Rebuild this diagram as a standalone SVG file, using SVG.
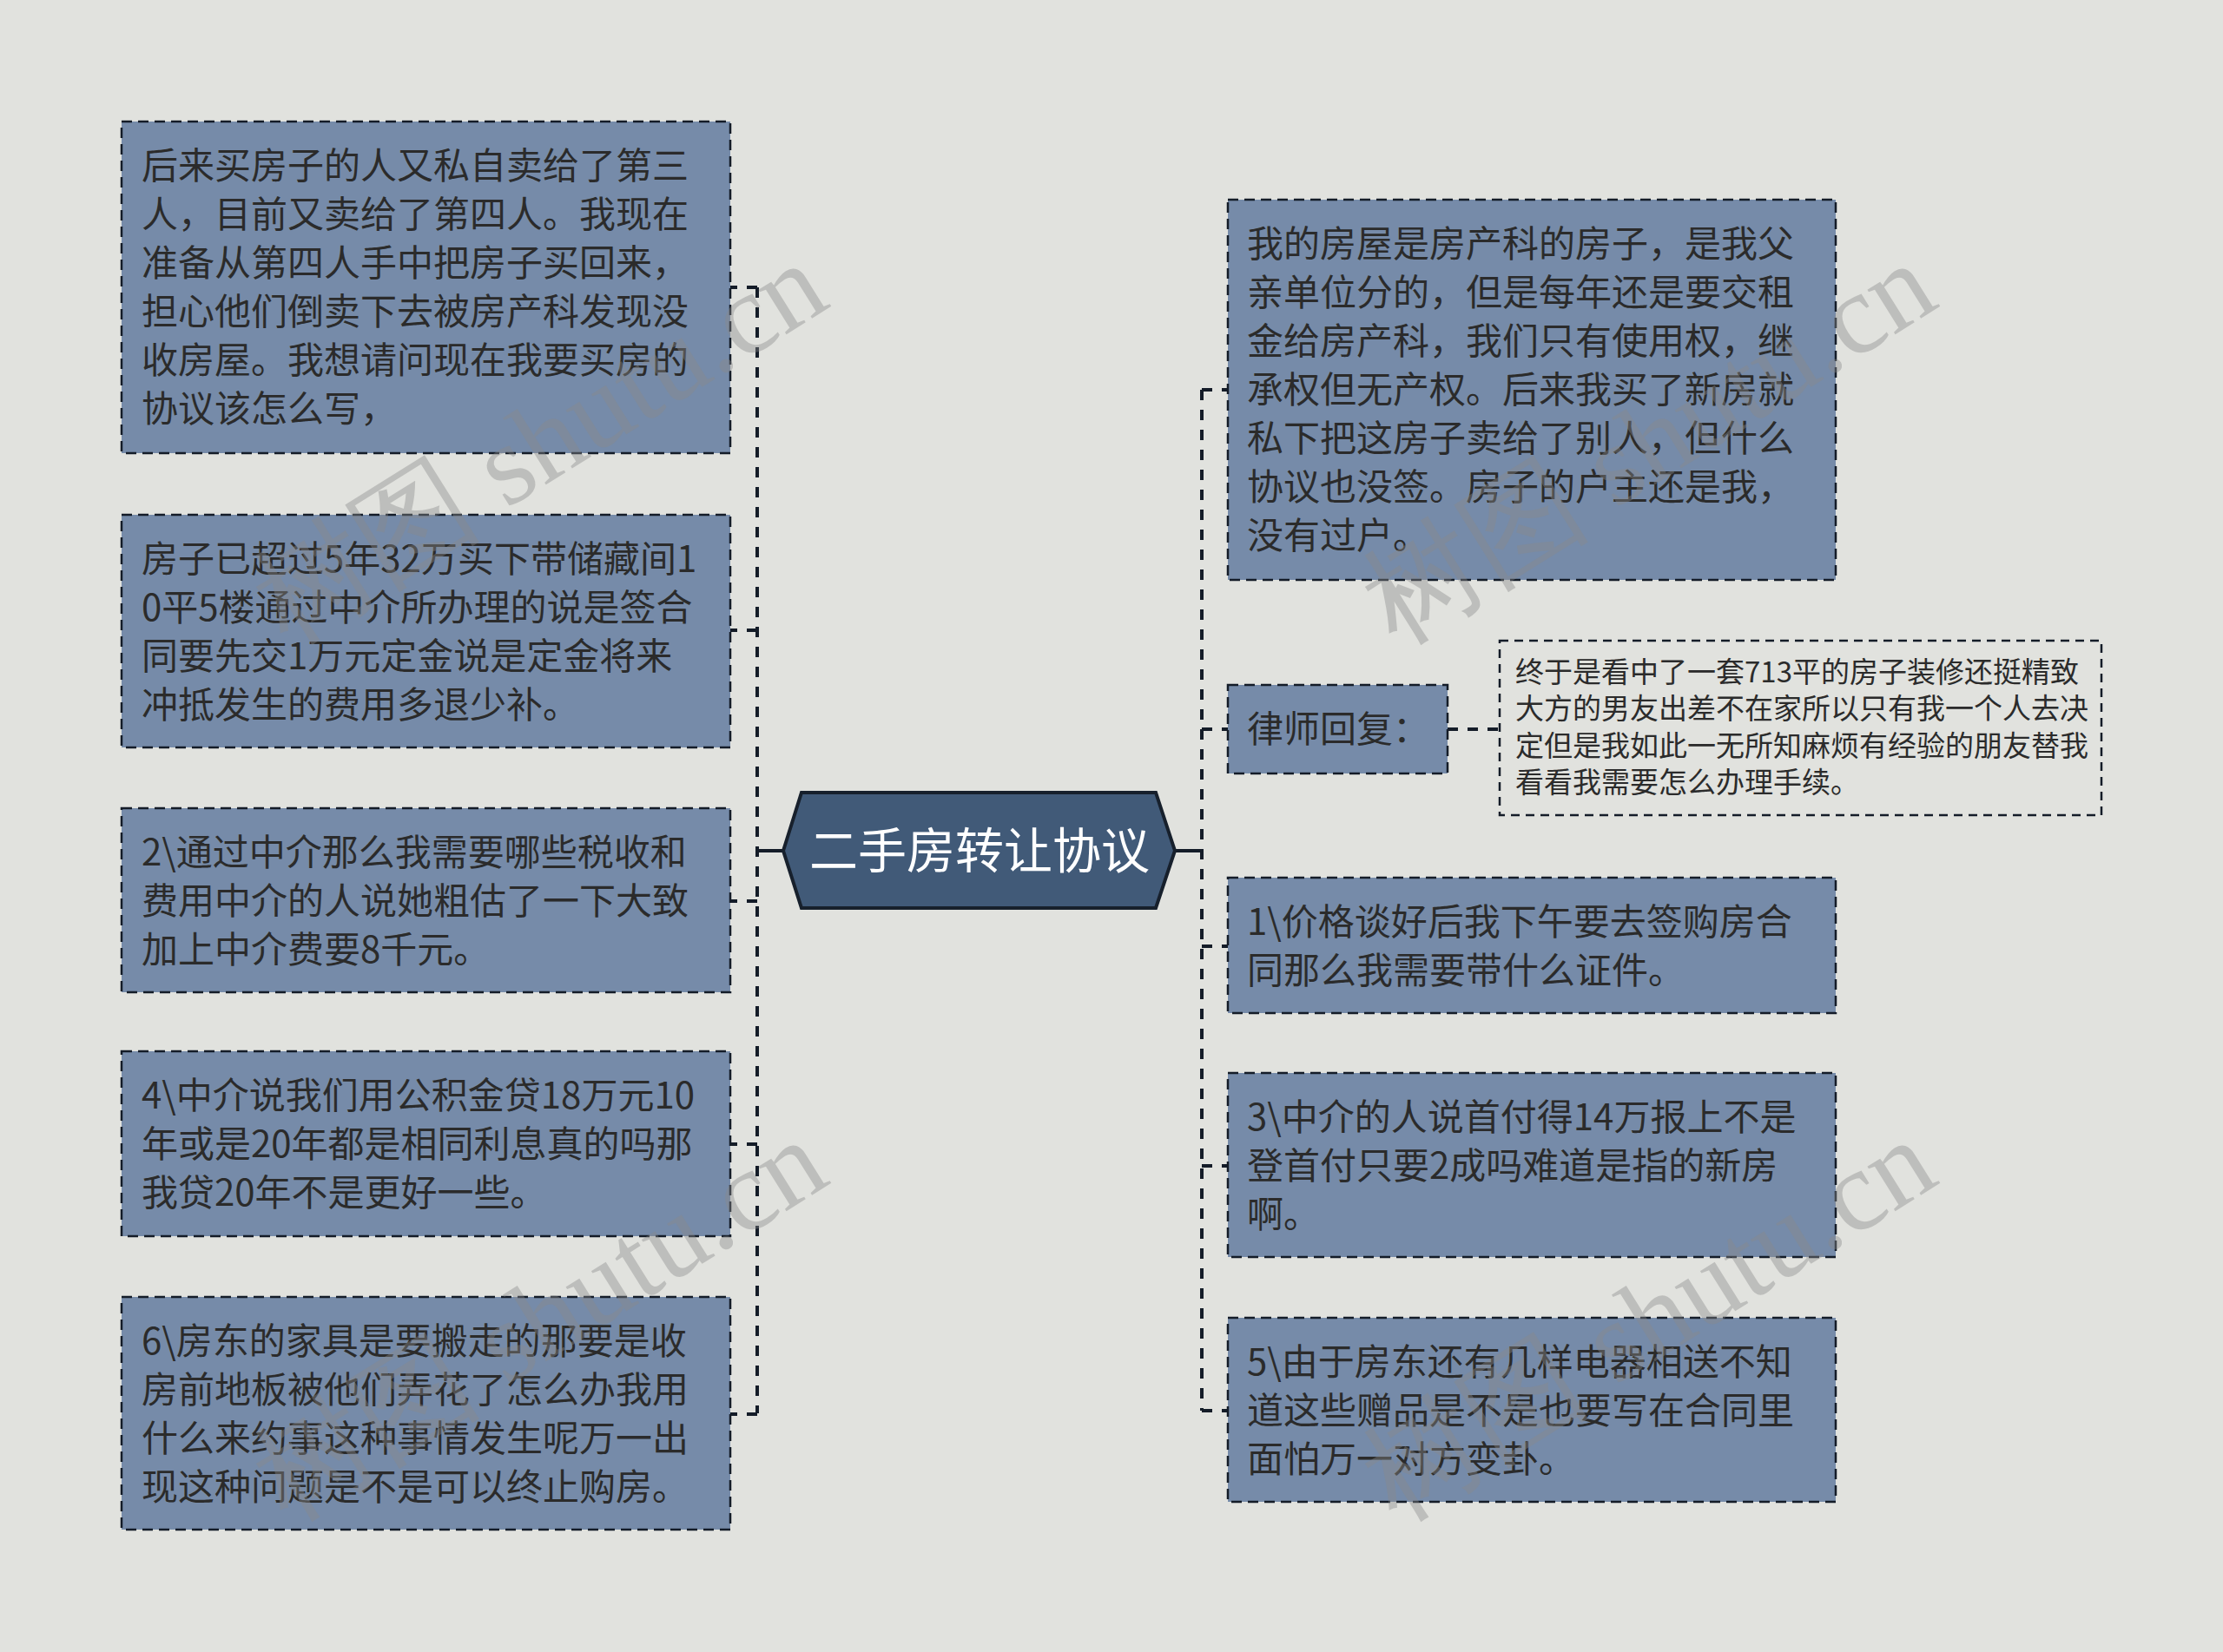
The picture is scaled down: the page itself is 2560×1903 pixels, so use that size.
<svg xmlns="http://www.w3.org/2000/svg" width="2560" height="1903" viewBox="0 0 2560 1903">
<style>
.bg{fill:#e1e2de}
.box{fill:#768ba9;stroke:#141c28;stroke-width:2.5;stroke-dasharray:12 7}
.cbox{fill:none;stroke:#141c28;stroke-width:2.5;stroke-dasharray:10 7}
.t{font-family:"Noto Sans CJK SC","Noto Sans",sans-serif;font-size:42px;fill:#2b2b2b}
.ct{font-family:"Noto Sans CJK SC","Noto Sans",sans-serif;font-size:33px;fill:#2b2b2b}
.main{font-family:"Noto Sans CJK SC","Noto Sans",sans-serif;font-size:56px;fill:#ffffff;text-anchor:middle}
.dl{fill:none;stroke:#141c28;stroke-width:4;stroke-dasharray:12 11}
.sl{fill:none;stroke:#141c28;stroke-width:4}
.wm{font-family:"Liberation Serif","DejaVu Serif",serif;font-size:132px;fill:#8a8a8a;opacity:0.4;text-anchor:middle}
</style>
<rect class="bg" x="0" y="0" width="2560" height="1903"/>
<g id="connectors">
<path class="dl" d="M872 331 V1628"/>
<path class="dl" d="M872 331 H841 M872 726 H841 M872 1038 H841 M872 1318 H841 M872 1629 H841"/>
<path class="sl" d="M902 980 H872"/>
<path class="dl" d="M1384 449 V1625"/>
<path class="dl" d="M1384 449 H1414 M1384 840 H1414 M1384 1090 H1414 M1384 1343 H1414 M1384 1625 H1414"/>
<path class="sl" d="M1353 980 H1384"/>
<path class="dl" d="M1667 840 H1727"/>
</g>
<g id="center">
<polygon points="902,980 923,913 1331,913 1353,980 1331,1046 923,1046" fill="#415a78" stroke="#17202c" stroke-width="4"/>
<text class="main" x="1128" y="1000">二手房转让协议</text>
</g>
<g id="L1">
<rect class="box" x="140" y="140" width="701" height="382"/>
<text class="t"><tspan x="163" y="206">后来买房子的人又私自卖给了第三</tspan><tspan x="163" y="262">人，目前又卖给了第四人。我现在</tspan><tspan x="163" y="318">准备从第四人手中把房子买回来，</tspan><tspan x="163" y="374">担心他们倒卖下去被房产科发现没</tspan><tspan x="163" y="430">收房屋。我想请问现在我要买房的</tspan><tspan x="163" y="486">协议该怎么写，</tspan></text>
</g>
<g id="L2">
<rect class="box" x="140" y="593" width="701" height="268"/>
<text class="t"><tspan x="163" y="659">房子已超过5年32万买下带储藏间1</tspan><tspan x="163" y="715">0平5楼通过中介所办理的说是签合</tspan><tspan x="163" y="771">同要先交1万元定金说是定金将来</tspan><tspan x="163" y="827">冲抵发生的费用多退少补。</tspan></text>
</g>
<g id="L3">
<rect class="box" x="140" y="931" width="701" height="212"/>
<text class="t"><tspan x="163" y="997">2\通过中介那么我需要哪些税收和</tspan><tspan x="163" y="1053">费用中介的人说她粗估了一下大致</tspan><tspan x="163" y="1109">加上中介费要8千元。</tspan></text>
</g>
<g id="L4">
<rect class="box" x="140" y="1211" width="701" height="213"/>
<text class="t"><tspan x="163" y="1277">4\中介说我们用公积金贷18万元10</tspan><tspan x="163" y="1333">年或是20年都是相同利息真的吗那</tspan><tspan x="163" y="1389">我贷20年不是更好一些。</tspan></text>
</g>
<g id="L5">
<rect class="box" x="140" y="1494" width="701" height="268"/>
<text class="t"><tspan x="163" y="1560">6\房东的家具是要搬走的那要是收</tspan><tspan x="163" y="1616">房前地板被他们弄花了怎么办我用</tspan><tspan x="163" y="1672">什么来约事这种事情发生呢万一出</tspan><tspan x="163" y="1728">现这种问题是不是可以终止购房。</tspan></text>
</g>
<g id="R1">
<rect class="box" x="1414" y="230" width="700" height="438"/>
<text class="t"><tspan x="1436" y="296">我的房屋是房产科的房子，是我父</tspan><tspan x="1436" y="352">亲单位分的，但是每年还是要交租</tspan><tspan x="1436" y="408">金给房产科，我们只有使用权，继</tspan><tspan x="1436" y="464">承权但无产权。后来我买了新房就</tspan><tspan x="1436" y="520">私下把这房子卖给了别人，但什么</tspan><tspan x="1436" y="576">协议也没签。房子的户主还是我，</tspan><tspan x="1436" y="632">没有过户。</tspan></text>
</g>
<g id="R2">
<rect class="box" x="1414" y="789" width="253" height="102"/>
<text class="t" x="1436" y="855">律师回复：</text>
</g>
<g id="R2c">
<rect class="cbox" x="1727" y="738" width="693" height="201"/>
<text class="ct"><tspan x="1745" y="786">终于是看中了一套713平的房子装修还挺精致</tspan><tspan x="1745" y="828">大方的男友出差不在家所以只有我一个人去决</tspan><tspan x="1745" y="871">定但是我如此一无所知麻烦有经验的朋友替我</tspan><tspan x="1745" y="913">看看我需要怎么办理手续。</tspan></text>
</g>
<g id="R3">
<rect class="box" x="1414" y="1011" width="700" height="156"/>
<text class="t"><tspan x="1436" y="1077">1\价格谈好后我下午要去签购房合</tspan><tspan x="1436" y="1133">同那么我需要带什么证件。</tspan></text>
</g>
<g id="R4">
<rect class="box" x="1414" y="1236" width="700" height="212"/>
<text class="t"><tspan x="1436" y="1302">3\中介的人说首付得14万报上不是</tspan><tspan x="1436" y="1358">登首付只要2成吗难道是指的新房</tspan><tspan x="1436" y="1414">啊。</tspan></text>
</g>
<g id="R5">
<rect class="box" x="1414" y="1518" width="700" height="212"/>
<text class="t"><tspan x="1436" y="1584">5\由于房东还有几样电器相送不知</tspan><tspan x="1436" y="1640">道这些赠品是不是也要写在合同里</tspan><tspan x="1436" y="1696">面怕万一对方变卦。</tspan></text>
</g>
<g id="watermarks">
<text class="wm" transform="translate(645,548) rotate(-32)">树图 shutu.cn</text>
<text class="wm" transform="translate(1922,548) rotate(-32)">树图 shutu.cn</text>
<text class="wm" transform="translate(645,1558) rotate(-32)">树图 shutu.cn</text>
<text class="wm" transform="translate(1922,1558) rotate(-32)">树图 shutu.cn</text>
</g>
</svg>
